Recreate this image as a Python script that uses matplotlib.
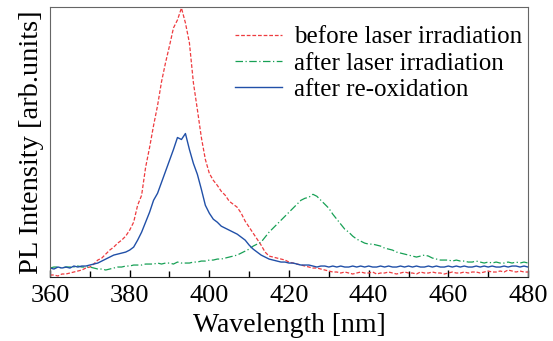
import matplotlib.pyplot as plt
import numpy as np
from matplotlib.ticker import MultipleLocator

# wavelength grid of the spectra (nm)
wavelength = np.arange(360, 481, 1)

# PL intensity (arb. units)
before_laser = [
    2, 2, 1, 3, 3, 4, 5, 6, 7, 9,
    10, 13, 17, 19, 23, 27, 30, 34, 37, 41,
    47, 55, 72, 82, 110, 130, 152, 172, 196, 215,
    232, 250, 258, 270, 255, 235, 195, 168, 140, 118,
    104, 97, 92, 86, 82, 76, 73, 70, 64, 56,
    50, 44, 38, 32, 25, 21, 20, 19, 18, 17,
    15, 14, 13, 12, 11, 10, 9, 9, 8, 7,
    6, 5, 5, 4, 5, 4, 3, 4, 5, 4,
    4, 5, 3, 4, 4, 5, 4, 3, 4, 5,
    4, 4, 3, 5, 4, 4, 5, 4, 4, 3,
    4, 5, 4, 4, 5, 4, 5, 5, 4, 5,
    6, 5, 5, 6, 5, 7, 6, 5, 6, 5,
    5,
]
after_laser = [
    9, 10, 10, 9, 10, 10, 10, 11, 10, 10,
    10, 9, 8, 8, 7, 8, 9, 10, 10, 11,
    11, 12, 12, 12, 13, 13, 13, 14, 13, 14,
    14, 13, 15, 14, 14, 14, 15, 15, 16, 16,
    17, 17, 18, 18, 19, 20, 21, 22, 24, 26,
    28, 31, 33, 35, 40, 45, 49, 53, 57, 61,
    65, 69, 73, 77, 79, 80, 83, 81, 77, 73,
    69, 63, 58, 53, 48, 45, 41, 38, 36, 34,
    33, 33, 32, 31, 29, 28, 27, 25, 24, 23,
    22, 21, 20, 21, 22, 21, 19, 18, 17, 17,
    17, 16, 17, 16, 16, 15, 15, 16, 15, 14,
    15, 14, 15, 14, 14, 15, 14, 15, 14, 15,
    14,
]
after_reox = [
    9, 8, 10, 9, 10, 9, 11, 10, 11, 11,
    12, 13, 14, 16, 18, 20, 22, 23, 24, 25,
    27, 30, 37, 45, 55, 65, 77, 84, 95, 106,
    117, 128, 140, 138, 144, 128, 114, 103, 88, 72,
    64, 58, 55, 51, 49, 47, 45, 43, 40, 37,
    32, 28, 25, 22, 20, 18, 17, 16, 15, 15,
    14, 14, 13, 12, 12, 12, 11, 10, 11, 11,
    10, 11, 10, 11, 10, 10, 11, 10, 11, 10,
    11, 10, 10, 11, 10, 11, 10, 10, 11, 10,
    11, 10, 11, 10, 10, 11, 10, 11, 10, 10,
    11, 10, 11, 10, 11, 10, 10, 11, 10, 11,
    10, 11, 10, 10, 11, 10, 11, 11, 10, 11,
    10,
]
labels = ["before laser irradiation", "after laser irradiation", "after re-oxidation"]

plt.rcParams['font.family'] = ['Liberation Serif', 'DejaVu Serif']

fig = plt.figure(figsize=(5.53, 3.41), dpi=100)
ax = fig.add_axes([0.0904, 0.1877, 0.8644, 0.7918])

ax.plot(wavelength, before_laser, color='#ee3b3f', linestyle=(0, (3, 1.5)), linewidth=0.9, label=labels[0])
ax.plot(wavelength, after_laser, color='#17a055', linestyle=(0, (6, 2, 1, 2)), linewidth=0.9, label=labels[1])
ax.plot(wavelength, after_reox, color='#2150a8', linestyle='-', linewidth=1.0, label=labels[2])

ax.set_xlim(360, 480)
ax.set_ylim(0, 271)
ax.xaxis.set_major_locator(MultipleLocator(20))
ax.xaxis.set_minor_locator(MultipleLocator(10))
ax.tick_params(axis='x', which='major', direction='in', length=5, width=1, labelsize=19, pad=6)
ax.tick_params(axis='x', which='minor', direction='in', length=4, width=1)
ax.set_yticks([])

for s in ['top', 'left', 'right']:
    ax.spines[s].set_color('#666666')
ax.spines['bottom'].set_color('#222222')

ax.set_xlabel("Wavelength [nm]", fontsize=20, labelpad=4)
ax.set_ylabel("PL Intensity [arb.units]", fontsize=20.5, labelpad=4)

ax.legend(loc='upper right', bbox_to_anchor=(1.008, 0.967), frameon=False, fontsize=18,
          handlelength=1.9, handletextpad=0.45, labelspacing=0.15, borderaxespad=0.1,
          borderpad=0.3)

fig.savefig("out.png", dpi=100)
